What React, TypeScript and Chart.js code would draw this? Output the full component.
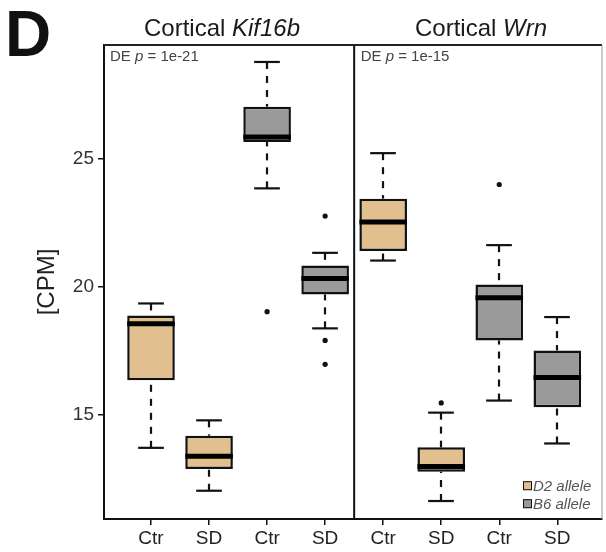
import React, { useEffect, useRef } from 'react';
import { Chart, registerables } from 'chart.js';

Chart.register(...registerables);

const FONT = "'Liberation Sans', Arial, Helvetica, sans-serif";

// ---- data ----
const categories = ['Ctr', 'SD', 'Ctr', 'SD', 'Ctr', 'SD', 'Ctr', 'SD'];
const alleles = ['D2', 'D2', 'B6', 'B6', 'D2', 'D2', 'B6', 'B6'];
const panelTitles = [['Cortical ', 'Kif16b'], ['Cortical ', 'Wrn']];
const panelPValues = ['1e-21', '1e-15'];
const lowerWhisker = [13.73, 12.06, 23.83, 18.38, 21.02, 11.66, 15.57, 13.9];
const q1 = [16.36, 12.91, 25.63, 19.7, 21.39, 12.8, 17.91, 15.31];
const median = [18.56, 13.4, 25.83, 20.32, 22.52, 13.0, 19.57, 16.47];
const q3 = [18.88, 14.2, 27.01, 20.83, 23.43, 13.75, 20.09, 17.52];
const upperWhisker = [19.35, 14.8, 28.75, 21.32, 25.2, 15.1, 21.62, 18.82];
const outliers = [[], [], [19.03], [22.75, 17.91, 16.98], [], [15.48], [23.98], []];
const yTicks = [15, 20, 25];
const legendLabels = ['D2 allele', 'B6 allele'];
const panelLetter = 'D';
const yTitle = '[CPM]';

const positions = categories.map((_, i) => i + 1);
const COLORS: Record<string, string> = { D2: '#E2BF8E', B6: '#9A9A9A' };

function boxDataset(allele: string, label: string) {
  return {
    type: 'bar' as const,
    label,
    backgroundColor: COLORS[allele],
    borderColor: '#111',
    borderWidth: 2.5,
    borderSkipped: false,
    grouped: false,
    barPercentage: 0.82,
    categoryPercentage: 1,
    data: positions
      .filter((_, i) => alleles[i] === allele)
      .map((p) => ({ x: p, y: [q1[p - 1], q3[p - 1]] })),
  };
}

const boxPlugin = {
  id: 'boxParts',
  beforeDatasetsDraw(chart: any) {
    const { ctx } = chart;
    const xs = chart.scales.x;
    const ys = chart.scales.y;
    const bw = chart.getDatasetMeta(0).data[0].width;
    const cap = bw * 0.27;
    ctx.save();
    ctx.strokeStyle = '#111';
    ctx.lineWidth = 2.2;
    positions.forEach((p, i) => {
      const x = Math.round(xs.getPixelForValue(p));
      const segs: [number, number][] = [
        [upperWhisker[i], q3[i]],
        [lowerWhisker[i], q1[i]],
      ];
      segs.forEach(([w, h]) => {
        ctx.setLineDash([7, 7]);
        ctx.beginPath();
        ctx.moveTo(x, ys.getPixelForValue(w));
        ctx.lineTo(x, ys.getPixelForValue(h));
        ctx.stroke();
        ctx.setLineDash([]);
        ctx.beginPath();
        const wy = ys.getPixelForValue(w);
        ctx.moveTo(x - cap, wy);
        ctx.lineTo(x + cap, wy);
        ctx.stroke();
      });
    });
    ctx.restore();
  },
  afterDatasetsDraw(chart: any) {
    const { ctx } = chart;
    const xs = chart.scales.x;
    const ys = chart.scales.y;
    const bw = chart.getDatasetMeta(0).data[0].width;
    ctx.save();
    ctx.strokeStyle = '#000';
    ctx.lineWidth = 5;
    positions.forEach((p, i) => {
      const x = xs.getPixelForValue(p);
      const y = ys.getPixelForValue(median[i]);
      ctx.beginPath();
      ctx.moveTo(x - bw / 2, y);
      ctx.lineTo(x + bw / 2, y);
      ctx.stroke();
    });
    ctx.restore();
  },
  afterDraw(chart: any) {
    const { ctx, chartArea } = chart;
    const xs = chart.scales.x;
    const { left, right, top, bottom } = chartArea;
    const divX = xs.getPixelForValue(4.5);
    ctx.save();
    // frame
    ctx.strokeStyle = '#222';
    ctx.lineWidth = 2;
    ctx.beginPath();
    ctx.moveTo(left, top);
    ctx.lineTo(right, top);
    ctx.stroke();
    ctx.strokeStyle = '#999';
    ctx.lineWidth = 1;
    ctx.beginPath();
    ctx.moveTo(right, top);
    ctx.lineTo(right, bottom);
    ctx.stroke();
    ctx.strokeStyle = '#111';
    ctx.lineWidth = 2;
    ctx.beginPath();
    ctx.moveTo(divX, top);
    ctx.lineTo(divX, bottom);
    ctx.stroke();

    // panel letter
    ctx.fillStyle = '#111';
    ctx.textBaseline = 'alphabetic';
    ctx.textAlign = 'left';
    ctx.font = `bold 64px ${FONT}`;
    ctx.fillText(panelLetter, 5, 56);

    // titles
    const centers = [222, 481];
    panelTitles.forEach((parts, k) => {
      ctx.font = `24px ${FONT}`;
      const w1 = ctx.measureText(parts[0]).width;
      ctx.font = `italic 24px ${FONT}`;
      const w2 = ctx.measureText(parts[1]).width;
      const x0 = centers[k] - (w1 + w2) / 2;
      ctx.fillStyle = '#1a1a1a';
      ctx.font = `24px ${FONT}`;
      ctx.fillText(parts[0], x0, 36);
      ctx.font = `italic 24px ${FONT}`;
      ctx.fillText(parts[1], x0 + w1, 36);
    });

    // DE p labels
    const deX = [left + 6, divX + 6.5];
    panelPValues.forEach((pv, k) => {
      ctx.fillStyle = '#444';
      let x = deX[k];
      const pieces: [string, boolean][] = [['DE ', false], ['p', true], [' = ' + pv, false]];
      pieces.forEach(([t, it]) => {
        ctx.font = `${it ? 'italic ' : ''}15px ${FONT}`;
        ctx.fillText(t, x, 61);
        x += ctx.measureText(t).width;
      });
    });

    // legend
    const sqX = right - 79;
    const rows = [490.7, 508.7];
    [0, 1].forEach((di) => {
      const ds = chart.data.datasets[di];
      const by = rows[di];
      ctx.fillStyle = ds.backgroundColor;
      ctx.fillRect(sqX, by - 9.5, 9, 9);
      ctx.strokeStyle = '#111';
      ctx.lineWidth = 1;
      ctx.strokeRect(sqX + 0.5, by - 9, 8, 8);
      ctx.fillStyle = '#555';
      ctx.font = `italic 15px ${FONT}`;
      ctx.fillText(legendLabels[di], sqX + 10, by);
    });
    ctx.restore();
  },
};

export default function App() {
  const ref = useRef<HTMLCanvasElement>(null);
  useEffect(() => {
    if (!ref.current) return;
    Chart.defaults.font.family = FONT;
    const outlierPoints: { x: number; y: number }[] = [];
    outliers.forEach((arr, i) => arr.forEach((v) => outlierPoints.push({ x: positions[i], y: v })));
    const chart = new Chart(ref.current, {
      type: 'bar',
      data: {
        datasets: [
          boxDataset('D2', legendLabels[0]),
          boxDataset('B6', legendLabels[1]),
          {
            type: 'scatter',
            label: 'outliers',
            data: outlierPoints,
            pointRadius: 2.6,
            pointBackgroundColor: '#111',
            pointBorderWidth: 0,
          } as any,
        ],
      },
      options: {
        animation: false,
        responsive: false,
        events: [],
        layout: { padding: { left: 0, right: 2, top: 45, bottom: 0 } },
        plugins: { legend: { display: false }, tooltip: { enabled: false } },
        scales: {
          x: {
            type: 'linear',
            min: 0.19,
            max: 8.77,
            offset: false,
            afterBuildTicks: (scale: any) => {
              scale.ticks = positions.map((v) => ({ value: v }));
            },
            afterFit: (scale: any) => {
              scale.height = 33;
            },
            ticks: {
              autoSkip: false,
              maxRotation: 0,
              padding: 2,
              color: '#222',
              font: { size: 19, family: FONT },
              callback: (_v: any, i: number) => categories[i],
            },
            grid: { drawOnChartArea: false, offset: false, tickLength: 6, color: '#111', lineWidth: 1.5 },
            border: { color: '#111', width: 2 },
          },
          y: {
            type: 'linear',
            min: 10.96,
            max: 29.41,
            afterBuildTicks: (scale: any) => {
              scale.ticks = yTicks.map((v) => ({ value: v }));
            },
            afterFit: (scale: any) => {
              scale.width = 104;
            },
            ticks: {
              padding: 4,
              color: '#333',
              font: { size: 19, family: FONT },
            },
            grid: { drawOnChartArea: false, tickLength: 6, color: '#111', lineWidth: 1.5 },
            border: { color: '#111', width: 2 },
            title: {
              display: true,
              text: yTitle,
              color: '#222',
              font: { size: 24, family: FONT },
              padding: { top: 33, bottom: 0 },
            },
          },
        },
      } as any,
      plugins: [boxPlugin],
    });
    return () => chart.destroy();
  }, []);
  return (
    <div style={{ position: 'absolute', left: 0, top: 0, width: 606, height: 552, background: '#fff' }}>
      <canvas ref={ref} width={606} height={552} style={{ display: 'block' }} />
    </div>
  );
}
